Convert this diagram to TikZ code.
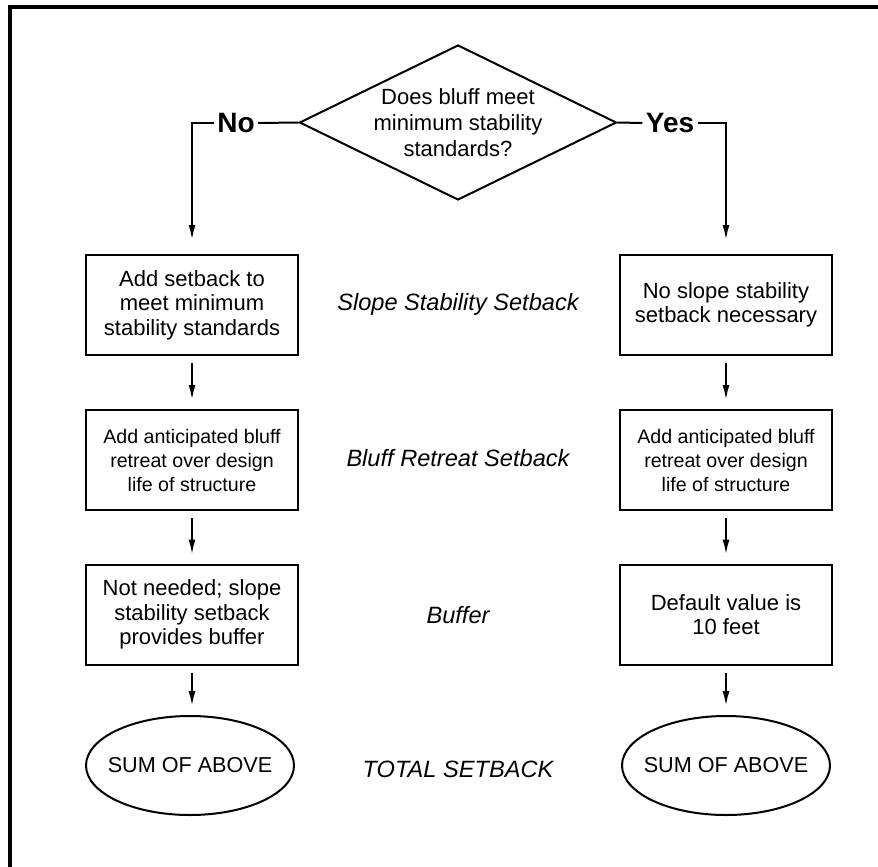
\documentclass[tikz,border=0pt]{standalone}
\usepackage{fontspec}
\setmainfont{Liberation Sans}
\usetikzlibrary{shapes.geometric,arrows.meta}
\newcommand{\bxf}  {\fontsize{11}{12.3}\selectfont}
\newcommand{\smf}  {\fontsize{9.8}{12}\selectfont}
\newcommand{\sumtxt}{\makebox[0pt]{SUM OF ABOVE}}

\begin{document}
\begin{tikzpicture}[x=0.5pt,y=-0.5pt,
   box/.style={draw,line width=1pt,minimum width=106pt,minimum height=50pt,align=center,inner sep=2pt,font=\bxf},
   sum/.style={draw,ellipse,line width=1pt,minimum width=104pt,minimum height=49.5pt,inner sep=0pt,font=\fontsize{10.8}{12}\selectfont},
   lbl/.style={font=\fontsize{11.8}{14}\selectfont\itshape},
   ans/.style={font=\fontsize{14}{16}\selectfont\bfseries,inner sep=1.5pt},
   flow/.style={-{Latex[length=7.5pt,width=3.5pt]},line width=1pt,shorten <=3.5pt,shorten >=4.5pt}]
   \useasboundingbox (0,0) rectangle (878,867);
   \draw[line width=1.6pt] (10,867) -- (10,7) -- (878,7);
   \node[draw,diamond,aspect=2.05,inner sep=0pt,minimum width=158.5pt,minimum height=77.5pt,
     line width=1pt,align=center,font=\fontsize{11}{13}\selectfont] (q) at (458,122.5)
     {Does bluff meet\\minimum stability\\standards?};
   \node[ans] (no)  at (236,123) {No};
   \node[ans] (yes) at (670,123) {Yes};
   \node[box] (l1) at (192,305) {Add setback to\\meet minimum\\stability standards};
   \node[box] (r1) at (726,305) {No slope stability\\setback necessary};
   \node[box,font=\smf] (l2) at (192,460) {Add anticipated bluff\\retreat over design\\life of structure};
   \node[box,font=\smf] (r2) at (726,460) {Add anticipated bluff\\retreat over design\\life of structure};
   \node[box] (l3) at (192,614.5) {Not needed; slope\\stability setback\\provides buffer};
   \node[box] (r3) at (726,614.5) {Default value is\\10 feet};
   \node[sum] (l4) at (190,765.5) {\sumtxt};
   \node[sum] (r4) at (726,765.5) {\sumtxt};
   \node[lbl] (t1) at (458,304) {Slope Stability Setback};
   \node[lbl] (t2) at (458,458) {Bluff Retreat Setback};
   \node[lbl] (t3) at (458,615) {Buffer};
   \node[lbl] (t4) at (458,769) {TOTAL SETBACK};
   \draw[line width=1pt] (q.west) -- (no.east);
   \draw[line width=1pt] (q.east) -- (yes.west);
   \draw[flow,shorten <=0pt,shorten >=7pt] (no.west) -| (l1.north);
   \draw[flow,shorten <=0pt,shorten >=7pt] (yes.east) -| (r1.north);
   \draw[flow] (l1) -- (l2);
   \draw[flow] (l2) -- (l3);
   \draw[flow] (l3) -- (l1 |- l4.north);
   \draw[flow] (r1) -- (r2);
   \draw[flow] (r2) -- (r3);
   \draw[flow] (r3) -- (r4);
\end{tikzpicture}
\end{document}
